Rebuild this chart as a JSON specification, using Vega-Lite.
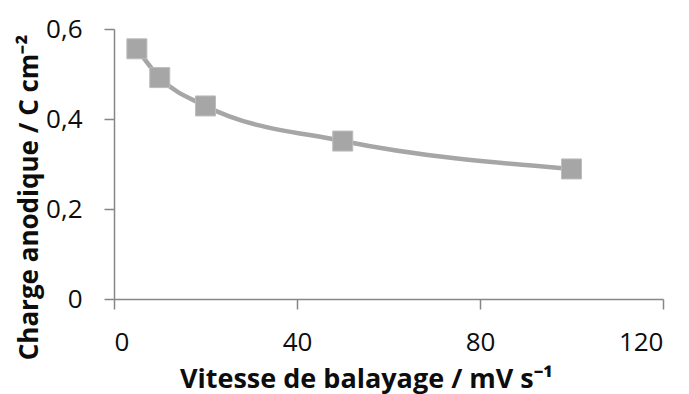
{
  "$schema": "https://vega.github.io/schema/vega-lite/v6.json",
  "autosize": "none",
  "width": 549,
  "height": 270,
  "padding": {"left": 114, "top": 29, "right": 26, "bottom": 95},
  "background": "white",
  "config": {
    "view": {"stroke": null},
    "font": "Open Sans",
    "axis": {
      "grid": false,
      "domainColor": "#868686",
      "tickColor": "#868686",
      "domainWidth": 1.5,
      "tickWidth": 1.5,
      "tickSize": 10,
      "labelFont": "Open Sans",
      "labelFontSize": 26,
      "labelColor": "#0d0d0d",
      "titleFont": "Open Sans",
      "titleFontWeight": "bold",
      "titleColor": "#0d0d0d",
      "titleLimit": 1000
    }
  },
  "data": {
    "values": [
      {"v": 5, "q": 0.556},
      {"v": 10, "q": 0.492},
      {"v": 20, "q": 0.429},
      {"v": 50, "q": 0.351},
      {"v": 100, "q": 0.289}
    ]
  },
  "encoding": {
    "x": {
      "field": "v",
      "type": "quantitative",
      "scale": {"domain": [0, 120], "nice": false},
      "axis": {
        "values": [0, 40, 80, 120],
        "title": "Vitesse de balayage / mV s⁻¹",
        "titleFontSize": 27,
        "labelPadding": 20,
        "titleX": 252,
        "titleY": 88,
        "titleBaseline": "alphabetic",
        "titleAlign": "center"
      }
    },
    "y": {
      "field": "q",
      "type": "quantitative",
      "scale": {"domain": [0, 0.6], "nice": false},
      "axis": {
        "values": [0, 0.2, 0.4, 0.6],
        "labelExpr": "datum.value == 0 ? '0' : replace(format(datum.value, '.1f'), '.', ',')",
        "title": "Charge anodique  / C cm⁻²",
        "titleFontSize": 26,
        "labelPadding": 22,
        "titleX": -77,
        "titleY": 168,
        "titleAngle": -90,
        "titleBaseline": "alphabetic",
        "titleAlign": "center"
      }
    }
  },
  "layer": [
    {
      "mark": {"type": "line", "interpolate": "monotone", "color": "#a6a6a6", "strokeWidth": 4.5}
    },
    {
      "mark": {"type": "point", "shape": "square", "filled": true, "size": 400, "color": "#a6a6a6", "opacity": 1, "stroke": "#bcbcbc", "strokeWidth": 1}
    }
  ]
}
